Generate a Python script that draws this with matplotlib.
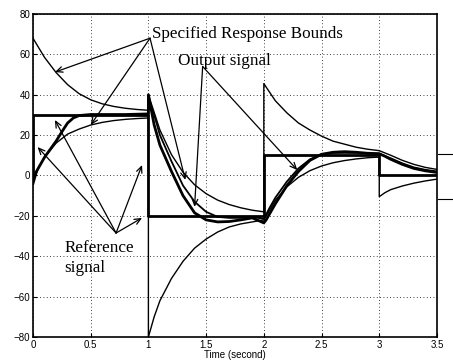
import matplotlib
matplotlib.use("Agg")
import matplotlib.pyplot as plt
from matplotlib.lines import Line2D

# reference step signal
ref_t = [0, 0, 1, 1, 2, 2, 3, 3, 3.5]
ref_v = [0, 30, 30, -20, -20, 10, 10, 0, 0]

# upper response bound, one piece per step
up_t1 = [0, 0.1, 0.2, 0.3, 0.4, 0.5, 0.6, 0.7, 0.8, 0.9, 1.0]
up_v1 = [68, 58.5, 51, 45, 40.5, 37.5, 35.5, 34.2, 33.3, 32.7, 32.3]
up_t2 = [1.0, 1.0, 1.1, 1.2, 1.3, 1.4, 1.5, 1.6, 1.7, 1.8, 1.9, 2.0]
up_v2 = [32.3, 40, 22.5, 10.3, 1.6, -4.6, -9, -12.2, -14.4, -16, -17.2, -18]
up_t3 = [2.0, 2.0, 2.1, 2.2, 2.3, 2.4, 2.5, 2.6, 2.7, 2.8, 2.9, 3.0]
up_v3 = [-18, 45.5, 37, 31, 26, 22.5, 19.5, 17, 15.5, 14, 13, 12.3]
up_t4 = [3.0, 3.1, 3.2, 3.3, 3.4, 3.5]
up_v4 = [12.3, 10, 7.5, 5.5, 4, 3]

# lower response bound
lo_t1 = [0, 0.05, 0.1, 0.2, 0.3, 0.4, 0.5, 0.6, 0.7, 0.8, 0.9, 1.0]
lo_v1 = [-3, 4, 9, 16, 20.5, 23, 25, 26.3, 27.2, 27.8, 28.2, 28.5]
lo_t2 = [1.0, 1.0, 1.05, 1.1, 1.2, 1.3, 1.4, 1.5, 1.6, 1.7, 1.8, 1.9, 2.0]
lo_v2 = [28.5, -80, -70, -62, -51, -42.5, -36, -31.5, -28, -25.5, -24, -23, -22]
lo_t3 = [2.0, 2.1, 2.2, 2.3, 2.4, 2.5, 2.6, 2.7, 2.8, 2.9, 3.0]
lo_v3 = [-22, -12.3, -5.6, -0.9, 2.4, 4.7, 6.3, 7.4, 8.2, 8.8, 9.1]
lo_t4 = [3.0, 3.0, 3.05, 3.1, 3.2, 3.3, 3.4, 3.5]
lo_v4 = [9.1, -10.5, -8.5, -7, -5.2, -3.8, -2.7, -1.8]

# output signals
out_t = [0, 0.03, 0.1, 0.2, 0.26, 0.3, 0.35, 0.4, 0.5, 0.8, 1.0,
         1.0, 1.05, 1.1, 1.2, 1.3, 1.4, 1.5, 1.6, 1.7, 1.8, 1.9, 2.0,
         2.02, 2.05, 2.1, 2.2, 2.3, 2.4, 2.5, 2.6, 2.7, 2.8, 2.9, 3.0,
         3.05, 3.1, 3.2, 3.3, 3.4, 3.5]
out_v = [-4, 2, 9, 17, 22.5, 26, 28.5, 29.7, 30.2, 30.2, 30.5,
         40, 25, 15, 2, -10, -18.5, -22, -23, -22.8, -22, -21, -23.5,
         -22, -19, -14, -5, 2, 7.5, 10.5, 11.5, 11.8, 11.5, 11, 10.8,
         9.5, 8, 5.5, 3.5, 2.3, 1.5]
out2_t = [1.0, 1.0, 1.05, 1.1, 1.2, 1.3, 1.4, 1.5, 1.6, 1.7, 1.8, 1.9, 2.0,
          2.05, 2.1, 2.2, 2.3, 2.4, 2.5, 2.6, 2.8, 3.0, 3.1, 3.2, 3.3, 3.4, 3.5]
out2_v = [30, 38, 30, 20, 7, -5, -13, -18, -20.5, -21, -21, -20.5, -21.5,
          -16, -11, -3, 3.5, 8, 10.5, 11.2, 11.2, 10.8, 8.5, 6, 4, 2.8, 2]

xticks = [0, 0.5, 1, 1.5, 2, 2.5, 3, 3.5]
xtick_labels = ["0", "0.5", "1", "1.5", "2", "2.5", "3", "3.5"]
yticks = [-80, -60, -40, -20, 0, 20, 40, 60, 80]

fig = plt.figure(figsize=(4.53, 3.64), dpi=100)
ax = fig.add_axes([0.0728, 0.0742, 0.8918, 0.8874])

for t, v in [(up_t1, up_v1), (up_t2, up_v2), (up_t3, up_v3), (up_t4, up_v4),
             (lo_t1, lo_v1), (lo_t2, lo_v2), (lo_t3, lo_v3), (lo_t4, lo_v4)]:
    ax.plot(t, v, color="black", lw=1.0)

ax.plot(ref_t, ref_v, color="black", lw=2.0)
ax.plot(out2_t, out2_v, color="black", lw=1.3)
ax.plot(out_t, out_v, color="black", lw=2.0)

ax.set_xlim(0, 3.5)
ax.set_ylim(-80, 80)
ax.set_xticks(xticks)
ax.set_xticklabels(xtick_labels)
ax.set_yticks(yticks)
ax.tick_params(direction="in", length=3, width=0.8, labelsize=7, pad=2)
for lab in ax.get_xticklabels() + ax.get_yticklabels():
    lab.set_family("Liberation Sans")
ax.grid(True, color="black", ls=(0, (1, 3)), lw=0.6)
for s in ax.spines.values():
    s.set_linewidth(1.2)
ax.set_xlabel("Time (second)", fontsize=7, family="Liberation Sans", labelpad=0)

# annotations
arr = dict(arrowstyle="->,head_length=0.45,head_width=0.2", lw=0.9, color="black",
           shrinkA=0, shrinkB=0)
spec_xy = (1.014, 68)
for target in [(0.19, 51.2), (0.50, 25.0), (1.32, -2.2)]:
    ax.annotate("", xy=target, xytext=spec_xy, arrowprops=arr)
out_xy = (1.47, 54)
for target in [(1.40, -15.6), (2.29, 2.7)]:
    ax.annotate("", xy=target, xytext=out_xy, arrowprops=arr)
ref_xy = (0.72, -28.5)
for target in [(0.19, 27.5), (0.04, 14.1), (0.945, 5.2), (0.945, -21)]:
    ax.annotate("", xy=target, xytext=ref_xy, arrowprops=arr)

serif = "Liberation Serif"
ax.text(1.035, 67.9, "Specified Response Bounds", family=serif, fontsize=12.3,
        va="baseline", ha="left")
ax.text(1.26, 54.7, "Output signal", family=serif, fontsize=12.3,
        va="baseline", ha="left")
ax.text(0.27, -37.9, "Reference", family=serif, fontsize=12.3,
        va="baseline", ha="left")
ax.text(0.27, -47.8, "signal", family=serif, fontsize=12.3,
        va="baseline", ha="left")

# leftover box edge at the right margin
y1 = 1 - 154 / 364
y2 = 1 - 199 / 364
fig.add_artist(Line2D([438 / 453, 1], [y1, y1], color="black", lw=0.8))
fig.add_artist(Line2D([438 / 453, 1], [y2, y2], color="black", lw=0.8))

fig.savefig("out.png", dpi=100)
